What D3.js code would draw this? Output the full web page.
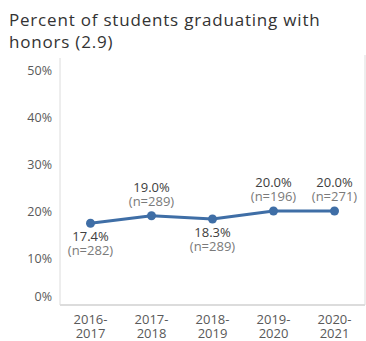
<!DOCTYPE html>
<html>
<head>
<meta charset="utf-8">
<script src="https://cdn.jsdelivr.net/npm/d3@7"></script>
<style>
  html, body { margin: 0; padding: 0; background: #fff; }
  svg { display: block; font-family: "Open Sans", "Liberation Sans", sans-serif; }
</style>
</head>
<body>
<svg id="chart" width="366" height="341"></svg>
<script>
// Honors graduation rate by school year
const years = ["2016-2017", "2017-2018", "2018-2019", "2019-2020", "2020-2021"];
const rates = [17.4, 19.0, 18.3, 20.0, 20.0];
const counts = [282, 289, 289, 196, 271];
const labelSide = ["below", "above", "below", "above", "above"];
const yTicks = [0, 10, 20, 30, 40, 50];

const svg = d3.select("#chart");
const plot = { left: 60, right: 365, top: 70, bottom: 305 };

const x = d3.scaleBand().domain(years).range([plot.left, plot.right]).padding(0);
const y = d3.scaleLinear().domain([0, 50]).range([plot.bottom, plot.top]);

// Title
const title = svg.append("text")
  .attr("x", 9).attr("y", 26)
  .attr("fill", "#333333")
  .style("font-size", "17px")
  .style("letter-spacing", "0.8px");
title.append("tspan").attr("x", 9).attr("dy", 0).text("Percent of students graduating with");
title.append("tspan").attr("x", 9).attr("dy", 22).text("honors (2.9)");

// Faint frame: y axis line, baseline, right edge
const frame = svg.append("g").attr("stroke", "#dcdcdc").attr("fill", "none");
frame.append("line").attr("x1", plot.left).attr("x2", plot.left)
  .attr("y1", 58).attr("y2", plot.bottom).attr("stroke-width", 1);
frame.append("line").attr("x1", plot.left).attr("x2", plot.right)
  .attr("y1", plot.bottom).attr("y2", plot.bottom).attr("stroke-width", 2);
frame.append("line").attr("x1", plot.right).attr("x2", plot.right)
  .attr("y1", 55).attr("y2", plot.bottom).attr("stroke-width", 1);

// Y axis labels
const yAxis = svg.append("g")
  .attr("transform", `translate(${plot.left - 8},0)`)
  .call(d3.axisLeft(y).tickValues(yTicks).tickFormat(d => d + "%").tickSize(0).tickPadding(0));
yAxis.select(".domain").remove();
yAxis.selectAll("text")
  .attr("fill", "#595959")
  .style("font-size", "12.5px")
  .style("font-family", "\"Open Sans\", sans-serif")
  .attr("dy", d => d === 0 ? "-0.35em" : "0.32em");

// X axis labels (two lines each)
const xAxis = svg.append("g")
  .attr("transform", `translate(0,${plot.bottom})`)
  .call(d3.axisBottom(x).tickSize(0).tickFormat(""));
xAxis.select(".domain").remove();
xAxis.selectAll(".tick").each(function(d) {
  const parts = d.split("-");
  const t = d3.select(this).append("text")
    .attr("fill", "#595959")
    .attr("text-anchor", "middle")
    .style("font-size", "13px")
    .style("font-family", "\"Open Sans\", sans-serif");
  t.append("tspan").attr("x", 0).attr("y", 19).text(parts[0] + "-");
  t.append("tspan").attr("x", 0).attr("y", 33).text(parts[1]);
});

const cx = d => x(d) + x.bandwidth() / 2;

// Line and markers
const lineGen = d3.line()
  .x((d, i) => cx(years[i]))
  .y(d => y(d));
svg.append("path")
  .datum(rates)
  .attr("fill", "none")
  .attr("stroke", "#3f6ea6")
  .attr("stroke-width", 3)
  .attr("stroke-linejoin", "round")
  .attr("d", lineGen);

svg.selectAll("circle.pt")
  .data(rates)
  .join("circle")
  .attr("class", "pt")
  .attr("cx", (d, i) => cx(years[i]))
  .attr("cy", d => y(d))
  .attr("r", 4.5)
  .attr("fill", "#3f6ea6");

// Value labels with sample sizes, one two-line text per point
const labels = svg.selectAll("text.lbl")
  .data(rates)
  .join("text")
  .attr("class", "lbl")
  .attr("text-anchor", "middle")
  .style("font-size", "13px")
  .attr("transform", (d, i) => `translate(${cx(years[i])},${y(d)})`);

labels.append("tspan")
  .attr("x", 0)
  .attr("y", (d, i) => labelSide[i] === "above" ? -24 : 18)
  .attr("fill", "#404040")
  .text(d => d.toFixed(1) + "%");

labels.append("tspan")
  .attr("x", 0)
  .attr("y", (d, i) => labelSide[i] === "above" ? -10 : 32)
  .attr("fill", "#7a7a7a")
  .text((d, i) => `(n=${counts[i]})`);
</script>
</body>
</html>
